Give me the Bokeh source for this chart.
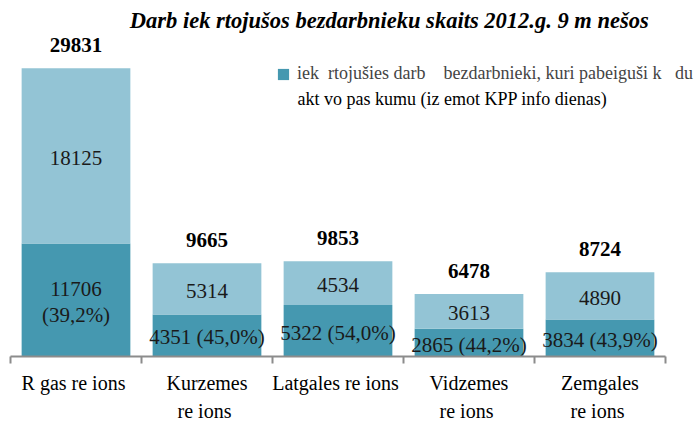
from bokeh.plotting import figure
from bokeh.models import (ColumnDataSource, Range1d, LinearAxis, FixedTicker, Legend, LegendItem, Label)
from bokeh.core.properties import value
from bokeh.embed import file_html
from bokeh.resources import INLINE

# ---- data ----
regions = ["Rigas", "Kurzemes", "Latgales", "Vidzemes", "Zemgales"]
region_labels = ["R gas re  ions", "Kurzemes\nre  ions", "Latgales re  ions",
                 "Vidzemes\nre  ions", "Zemgales\nre  ions"]
after_program = [11706, 4351, 5322, 2865, 3834]
other = [18125, 5314, 4534, 3613, 4890]
totals = [29831, 9665, 9853, 6478, 8724]
shares = ["39,2%", "45,0%", "54,0%", "44,2%", "43,9%"]
share_sep = ["\n", " ", " ", " ", " "]

title_text = "Darb   iek  rtojušos  bezdarbnieku skaits  2012.g. 9 m  nešos"
legend_line1 = "iek  rtojušies darb    bezdarbnieki, kuri pabeiguši k   du"
legend_line2 = "akt  vo pas  kumu (iz   emot KPP info dienas)"

DARK = "#4598B0"
LIGHT = "#93C4D5"
SERIF = "Liberation Serif"

n = len(regions)
centers = [i + 0.5 for i in range(n)]

src = ColumnDataSource(dict(
    x=centers,
    after=after_program,
    other=other,
    total=totals,
    after_mid=[a / 2 for a in after_program],
    other_mid=[a + o / 2 for a, o in zip(after_program, other)],
    after_lbl=[f"{a}{s}({sh})" for a, s, sh in zip(after_program, share_sep, shares)],
    other_lbl=[str(o) for o in other],
    total_lbl=[str(t) for t in totals],
))

p = figure(x_range=Range1d(0, n + 0.252), y_range=Range1d(0, 36850),
           width=700, height=425, output_backend="svg", toolbar_location=None,
           x_axis_location=None, y_axis_location=None,
           min_border_left=10, min_border_right=2, min_border_top=0, min_border_bottom=68)
p.outline_line_color = None
p.grid.visible = False
p.background_fill_color = "white"

rs = p.vbar_stack(["after", "other"], x="x", width=0.83, source=src,
                  color=[DARK, LIGHT], line_color=None)

p.text(x="x", y="after_mid", text="after_lbl", source=src, text_align="center",
       text_baseline="middle", y_offset=2, text_font=value(SERIF), text_font_size="21px",
       text_color="#1a1a1a", text_line_height=1.1)
p.text(x="x", y="other_mid", text="other_lbl", source=src, text_align="center",
       text_baseline="middle", y_offset=2, text_font=value(SERIF), text_font_size="21px",
       text_color="#1a1a1a")
p.text(x="x", y="total", text="total_lbl", source=src, text_align="center",
       text_baseline="middle", y_offset=-23, text_font=value(SERIF), text_font_size="21px",
       text_font_style="bold", text_color="black")

# boundary ticks axis
tick_axis = LinearAxis(ticker=FixedTicker(ticks=list(range(n + 1))), bounds=(0, n),
                       major_label_text_font_size="1px", major_label_text_color=None,
                       major_label_standoff=0,
                       axis_line_color="#8c8c8c", axis_line_width=2,
                       major_tick_line_color="#8c8c8c", major_tick_line_width=2,
                       major_tick_in=0, major_tick_out=7, minor_tick_line_color=None)
p.add_layout(tick_axis, "below")

label_axis = LinearAxis(ticker=FixedTicker(ticks=centers), axis_line_color=None,
                        major_tick_line_color=None, minor_tick_line_color=None,
                        major_label_overrides=dict(zip(centers, region_labels)),
                        major_label_text_font=SERIF, major_label_text_font_size="20px",
                        major_label_text_color="black", major_label_standoff=2,
                        major_label_text_line_height=1.3)
p.add_layout(label_axis, "below")

legend = Legend(items=[LegendItem(label=legend_line1, renderers=[rs[0]])],
                location=(266, 272), border_line_color=None, background_fill_alpha=0,
                label_text_font=SERIF, label_text_font_size="18px", glyph_width=14,
                glyph_height=14, label_standoff=7, padding=0, margin=0,
                label_height=20)
p.add_layout(legend, "center")

p.add_layout(Label(x=2.191, y=26631, text=legend_line2, text_align="left",
                   text_baseline="middle", text_font=SERIF, text_font_size="18px",
                   text_color="black"))

p.add_layout(Label(x=3.02, y=34785, text=title_text, text_align="center",
                   text_baseline="middle", text_font=SERIF, text_font_size="22.5px",
                   text_font_style="bold italic", text_color="black"))

open("out.html", "w").write(file_html(p, INLINE))
